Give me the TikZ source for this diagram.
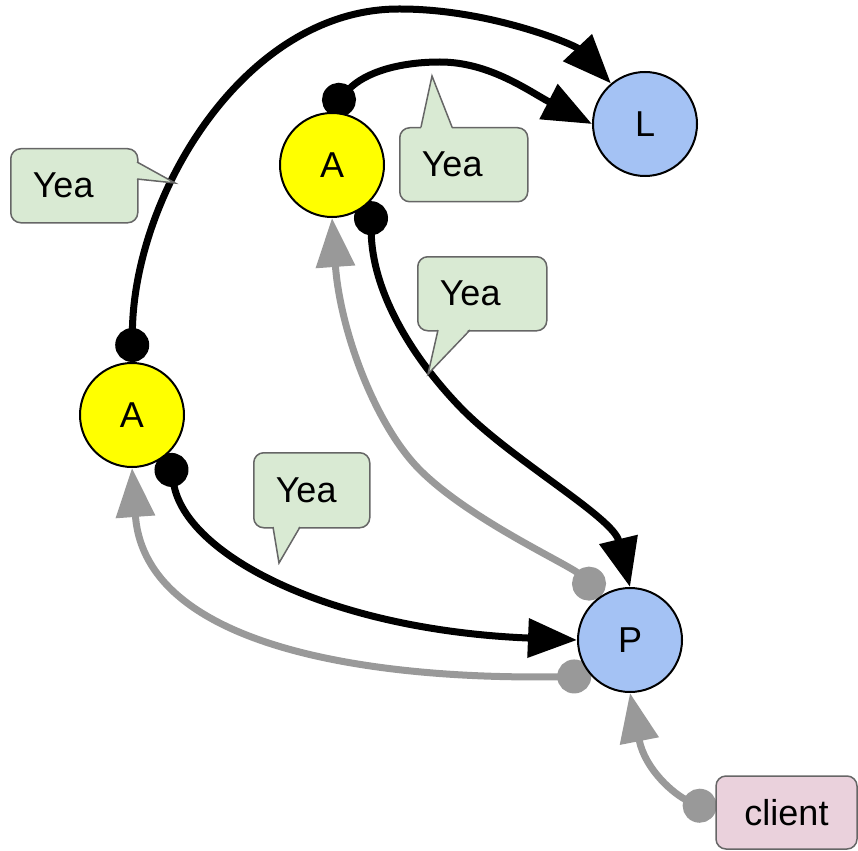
\documentclass[tikz,border=0pt]{standalone}
\usepackage{fontspec}
\setmainfont{Liberation Sans}
\usetikzlibrary{arrows.meta,backgrounds}
\definecolor{ayel}{HTML}{FFFF00}
\definecolor{nblue}{HTML}{A4C2F4}
\definecolor{cgreen}{HTML}{D9EAD3}
\definecolor{cpink}{HTML}{EAD1DC}
\definecolor{cborder}{HTML}{666666}
\definecolor{gline}{HTML}{999999}
\begin{document}
\begin{tikzpicture}[x=1pt,y=-1pt,
  font=\fontsize{36}{43}\selectfont,
  circ/.style={circle, draw=black, line width=2pt, minimum size=104pt, inner sep=0pt},
  blackedge/.style={line width=7pt, draw=black, {Circle[length=34pt]}-{Triangle[length=49pt,width=38pt]}},
  grayedge/.style={line width=7pt, draw=gline, {Circle[length=34pt]}-{Triangle[length=49pt,width=38pt]}},
  callout/.style={rectangle, rounded corners=10pt, fill=cgreen, draw=cborder, line width=1.5pt, minimum height=74pt, inner xsep=22pt, inner ysep=0pt, align=left, anchor=north west},
  tailfill/.style={fill=cgreen},
  tailline/.style={draw=cborder, line width=1.5pt, line join=miter},
  clientbox/.style={rectangle, rounded corners=10pt, fill=cpink, draw=cborder, line width=1.5pt, minimum width=141pt, minimum height=73pt, inner sep=0pt},
]
\useasboundingbox (0,0) rectangle (858,850);

% nodes
\node[circ, fill=ayel] (A1) at (332,165) {A};
\node[circ, fill=ayel] (A2) at (132,415) {A};
\node[circ, fill=nblue] (L) at (645,124) {L};
\node[circ, fill=nblue] (P) at (630,640) {P};
\node[clientbox] (client) at (786.5,812.5) {client};

% connectors (behind nodes)
\begin{pgfonlayer}{background}
\draw[blackedge] (A2.90) .. controls (134,195) and (245,8) .. (400,9)
                 .. controls (490,9) and (575,45) .. (L.130);
\draw[blackedge] (A1.95) .. controls (365,72) and (400,62) .. (440,62)
                 .. controls (490,62) and (530,92) .. (L.180);
\draw[blackedge] (A1.-43) .. controls (372,290) and (410,355) .. (460,407)
                 .. controls (510,459) and (613,517) .. (P.90);
\draw[blackedge] (A2.-46) .. controls (185,555) and (330,630) .. (P.180);
\draw[grayedge] (P.123) .. controls (570,565) and (470,520) .. (420,470)
                .. controls (375,425) and (340,330) .. (A1.-90);
\draw[grayedge] (P.223) .. controls (380,680) and (145,650) .. (A2.-90);
\draw[grayedge] (client.west) .. controls (675,795) and (645,770) .. (P.-90);
\end{pgfonlayer}

% callouts
\node[callout, text width=83pt] (c1) at (10,148) {Yea};
\fill[tailfill] (135,161.5) -- (175,183) -- (135,179.5) -- cycle;
\draw[tailline] (137,162) -- (175,183) -- (137,179);

\node[callout, text width=84pt] (c2) at (399,127) {Yea};
\fill[tailfill] (421,129) -- (432,76) -- (452,129) -- cycle;
\draw[tailline] (421,127) -- (432,76) -- (452,127);

\node[callout, text width=85pt] (c3) at (417,256) {Yea};
\fill[tailfill] (438,328) -- (428,374) -- (470,328) -- cycle;
\draw[tailline] (438,330) -- (428,374) -- (470,330);

\node[callout, text width=72pt, minimum height=75pt] (c4) at (253,452) {Yea};
\fill[tailfill] (273,525) -- (279,563) -- (300,525) -- cycle;
\draw[tailline] (273,527) -- (279,563) -- (300,527);
\end{tikzpicture}
\end{document}
